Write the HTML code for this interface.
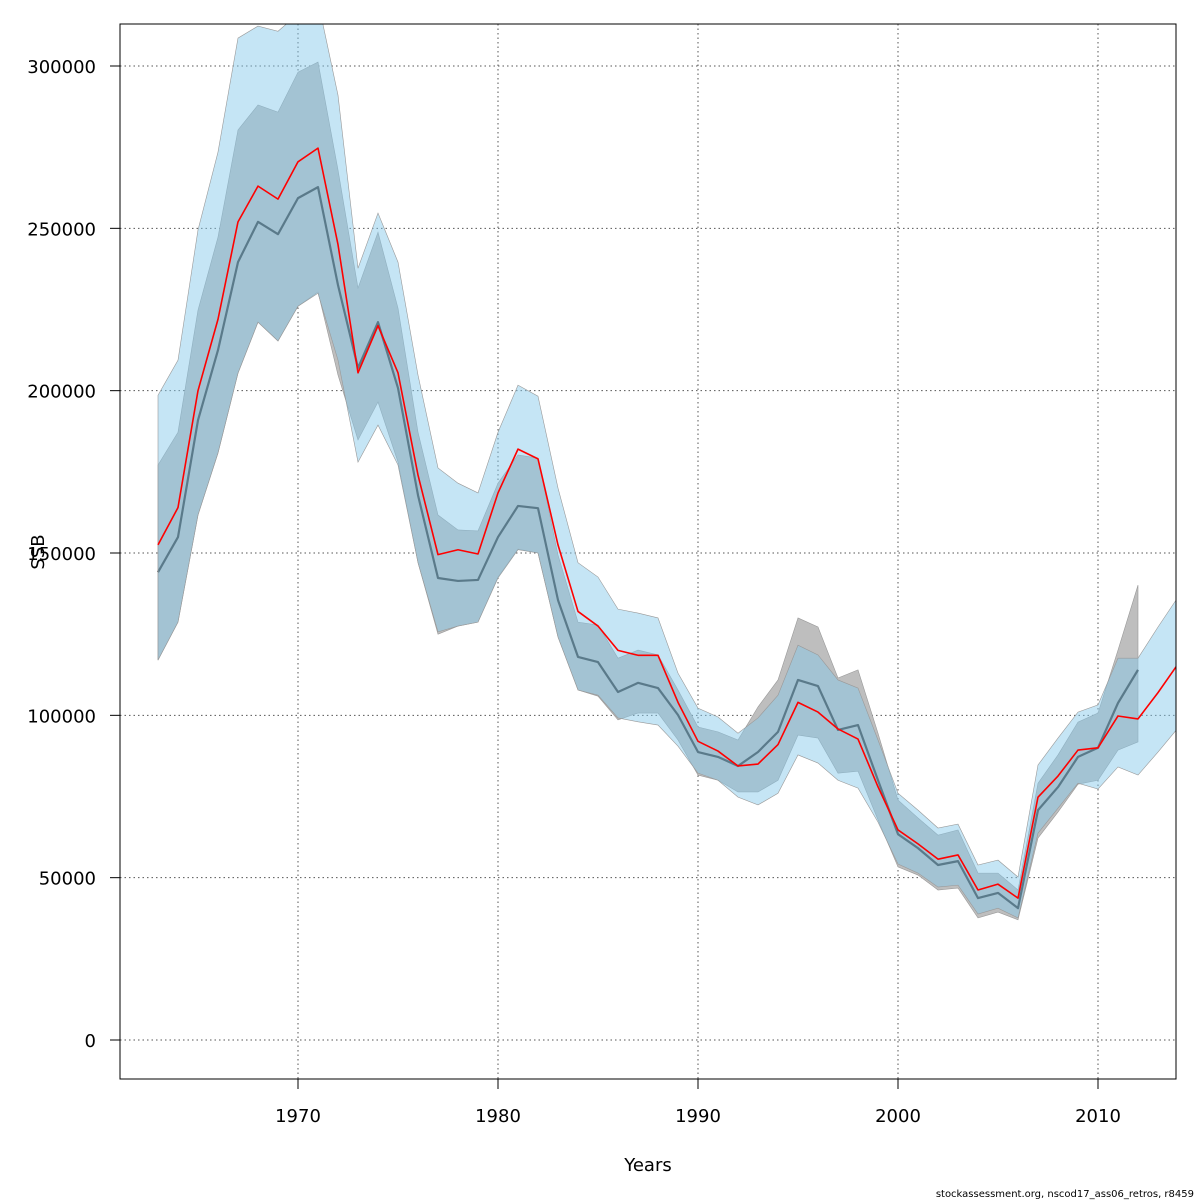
<!DOCTYPE html>
<html><head><meta charset="utf-8"><style>
body{margin:0;background:#fff}
svg{display:block;font-family:"DejaVu Sans","Liberation Sans",sans-serif}
</style></head><body>
<svg id="chart" width="1200" height="1200" viewBox="0 0 1200 1200" xmlns="http://www.w3.org/2000/svg">
<defs><clipPath id="pc"><rect x="120" y="24" width="1056" height="1055"/></clipPath></defs>
<g id="grid"></g>
<g id="marks" clip-path="url(#pc)"></g>
<rect x="120" y="24" width="1056" height="1055" fill="none" stroke="#000" stroke-width="1"/>
<g id="axes"></g>
<text x="648" y="1171" font-size="18" text-anchor="middle">Years</text>
<text x="44" y="552" font-size="18" text-anchor="middle" transform="rotate(-90 44 552)">SSB</text>
<text x="1194" y="1197" font-size="10" text-anchor="end">stockassessment.org, nscod17_ass06_retros, r8459</text>
</svg>
<script>
const years=[];for(let y=1963;y<=2014;y++)years.push(y);
const ssb=[152500,164000,200000,222000,252000,263000,259000,270500,274700,245000,205500,220000,205500,174000,149500,151000,149700,168500,182000,179000,152500,132000,127500,120000,118500,118500,104000,92000,89000,84400,85000,91000,104000,101000,95800,92700,78000,64700,60400,55700,57000,46200,48000,43700,74800,81300,89300,90000,99800,98900,107000,115800];
const ssbHi=[198600,209400,249500,273500,308600,312300,310700,316000,320000,291000,237700,254700,239600,204800,176200,171500,168500,187200,201700,198300,170000,147000,142600,132700,131500,130000,113000,102200,99500,94500,99200,106200,121600,118600,110900,108400,92400,76000,70800,65300,66500,53900,55400,50200,84700,93000,101000,103200,117600,117600,127200,136400];
const ssbLo=[117000,128700,161700,180800,205400,221100,215300,226000,230000,209400,178000,189400,177100,147000,125700,127500,128700,142300,151000,150000,124100,107800,106200,99200,98000,97000,90500,82200,80000,74800,72400,76000,87800,85300,80000,77600,67100,54200,51400,47100,47700,38800,40600,37600,63700,71400,79100,77300,84100,81600,88700,96100];
const retro=[144100,154900,190900,212500,239600,252000,248200,259300,262700,232500,207000,221100,200800,167800,142300,141400,141700,154900,164500,163800,135500,118000,116400,107200,110000,108400,100100,88700,87200,84400,88700,94900,110900,109000,95500,97000,80000,63400,59100,53900,55100,43700,45300,40600,70800,77900,87200,90000,103800,114000];
const retroHi=[177100,187200,224800,247300,280300,288000,285800,298100,301200,268000,231600,248800,225400,187200,161700,157100,156800,171500,180200,179200,149400,128700,127800,117600,120100,118600,107800,96400,94900,92400,102600,110900,130000,127200,111500,114000,94500,73900,68400,63100,64700,51400,51400,46200,79100,87800,97900,100700,120100,140100];
const retroLo=[117000,128700,161700,180800,205400,221100,215300,226000,230400,204800,184800,196500,178000,147000,125000,127500,128700,142600,151200,150000,124100,107800,105900,98600,100700,100700,92400,81600,80000,76400,76400,80000,93900,93000,82200,82800,67800,53300,50800,46200,46800,37600,39400,37000,62200,70200,78800,80000,89300,91800];
const xTicks=[1970,1980,1990,2000,2010];
const yTicks=[0,50000,100000,150000,200000,250000,300000];

const X=y=>298+(y-1970)*20;
const Y=v=>1040-v*974/300000;
const NS='http://www.w3.org/2000/svg';
function mk(tag,parent,attrs){const e=document.createElementNS(NS,tag);for(const k in attrs)e.setAttribute(k,attrs[k]);parent.appendChild(e);return e;}
const grid=document.getElementById('grid'),marks=document.getElementById('marks'),axes=document.getElementById('axes');
xTicks.forEach(t=>{const l=mk('line',grid,{x1:X(t),x2:X(t),y1:24,y2:1079,stroke:'#555','stroke-dasharray':'1.5,3'});


mk('line',axes,{x1:X(t),x2:X(t),y1:1079,y2:1089,stroke:'#000'});
const tx=mk('text',axes,{x:X(t),y:1122,'font-size':18,'text-anchor':'middle'});tx.textContent=t;

});
yTicks.forEach(t=>{const l=mk('line',grid,{x1:120,x2:1176,y1:Y(t),y2:Y(t),stroke:'#555','stroke-dasharray':'1.5,3'});


mk('line',axes,{x1:110,x2:120,y1:Y(t),y2:Y(t),stroke:'#000'});
const tx=mk('text',axes,{x:96,y:Y(t)+7,'font-size':18,'text-anchor':'end'});tx.textContent=t;

});
function band(xs,hi,lo,fill,name){let d='';xs.forEach((y,i)=>{d+=(i?'L':'M')+X(y)+','+Y(hi[i]);});
for(let i=xs.length-1;i>=0;i--)d+='L'+X(xs[i])+','+Y(lo[i]);d+='Z';
const p=mk('path',marks,{d:d,fill:fill,stroke:'#999','stroke-width':0.6});

}
function line(xs,vals,col,w,name){const p=mk('polyline',marks,{points:xs.map((y,i)=>X(y)+','+Y(vals[i])).join(' '),fill:'none',stroke:col,'stroke-width':w,'stroke-linejoin':'round'});

}
const ry=years.slice(0,retro.length);
band(ry,retroHi,retroLo,'#bebebe','retro-confidence-band');
line(ry,retro,'#333',2.2,'retro-ssb-line');
band(years,ssbHi,ssbLo,'rgba(133,200,234,0.48)','ssb-confidence-band');
line(years,ssb,'#ff0000',1.6,'ssb-line');
</script>
</body></html>
